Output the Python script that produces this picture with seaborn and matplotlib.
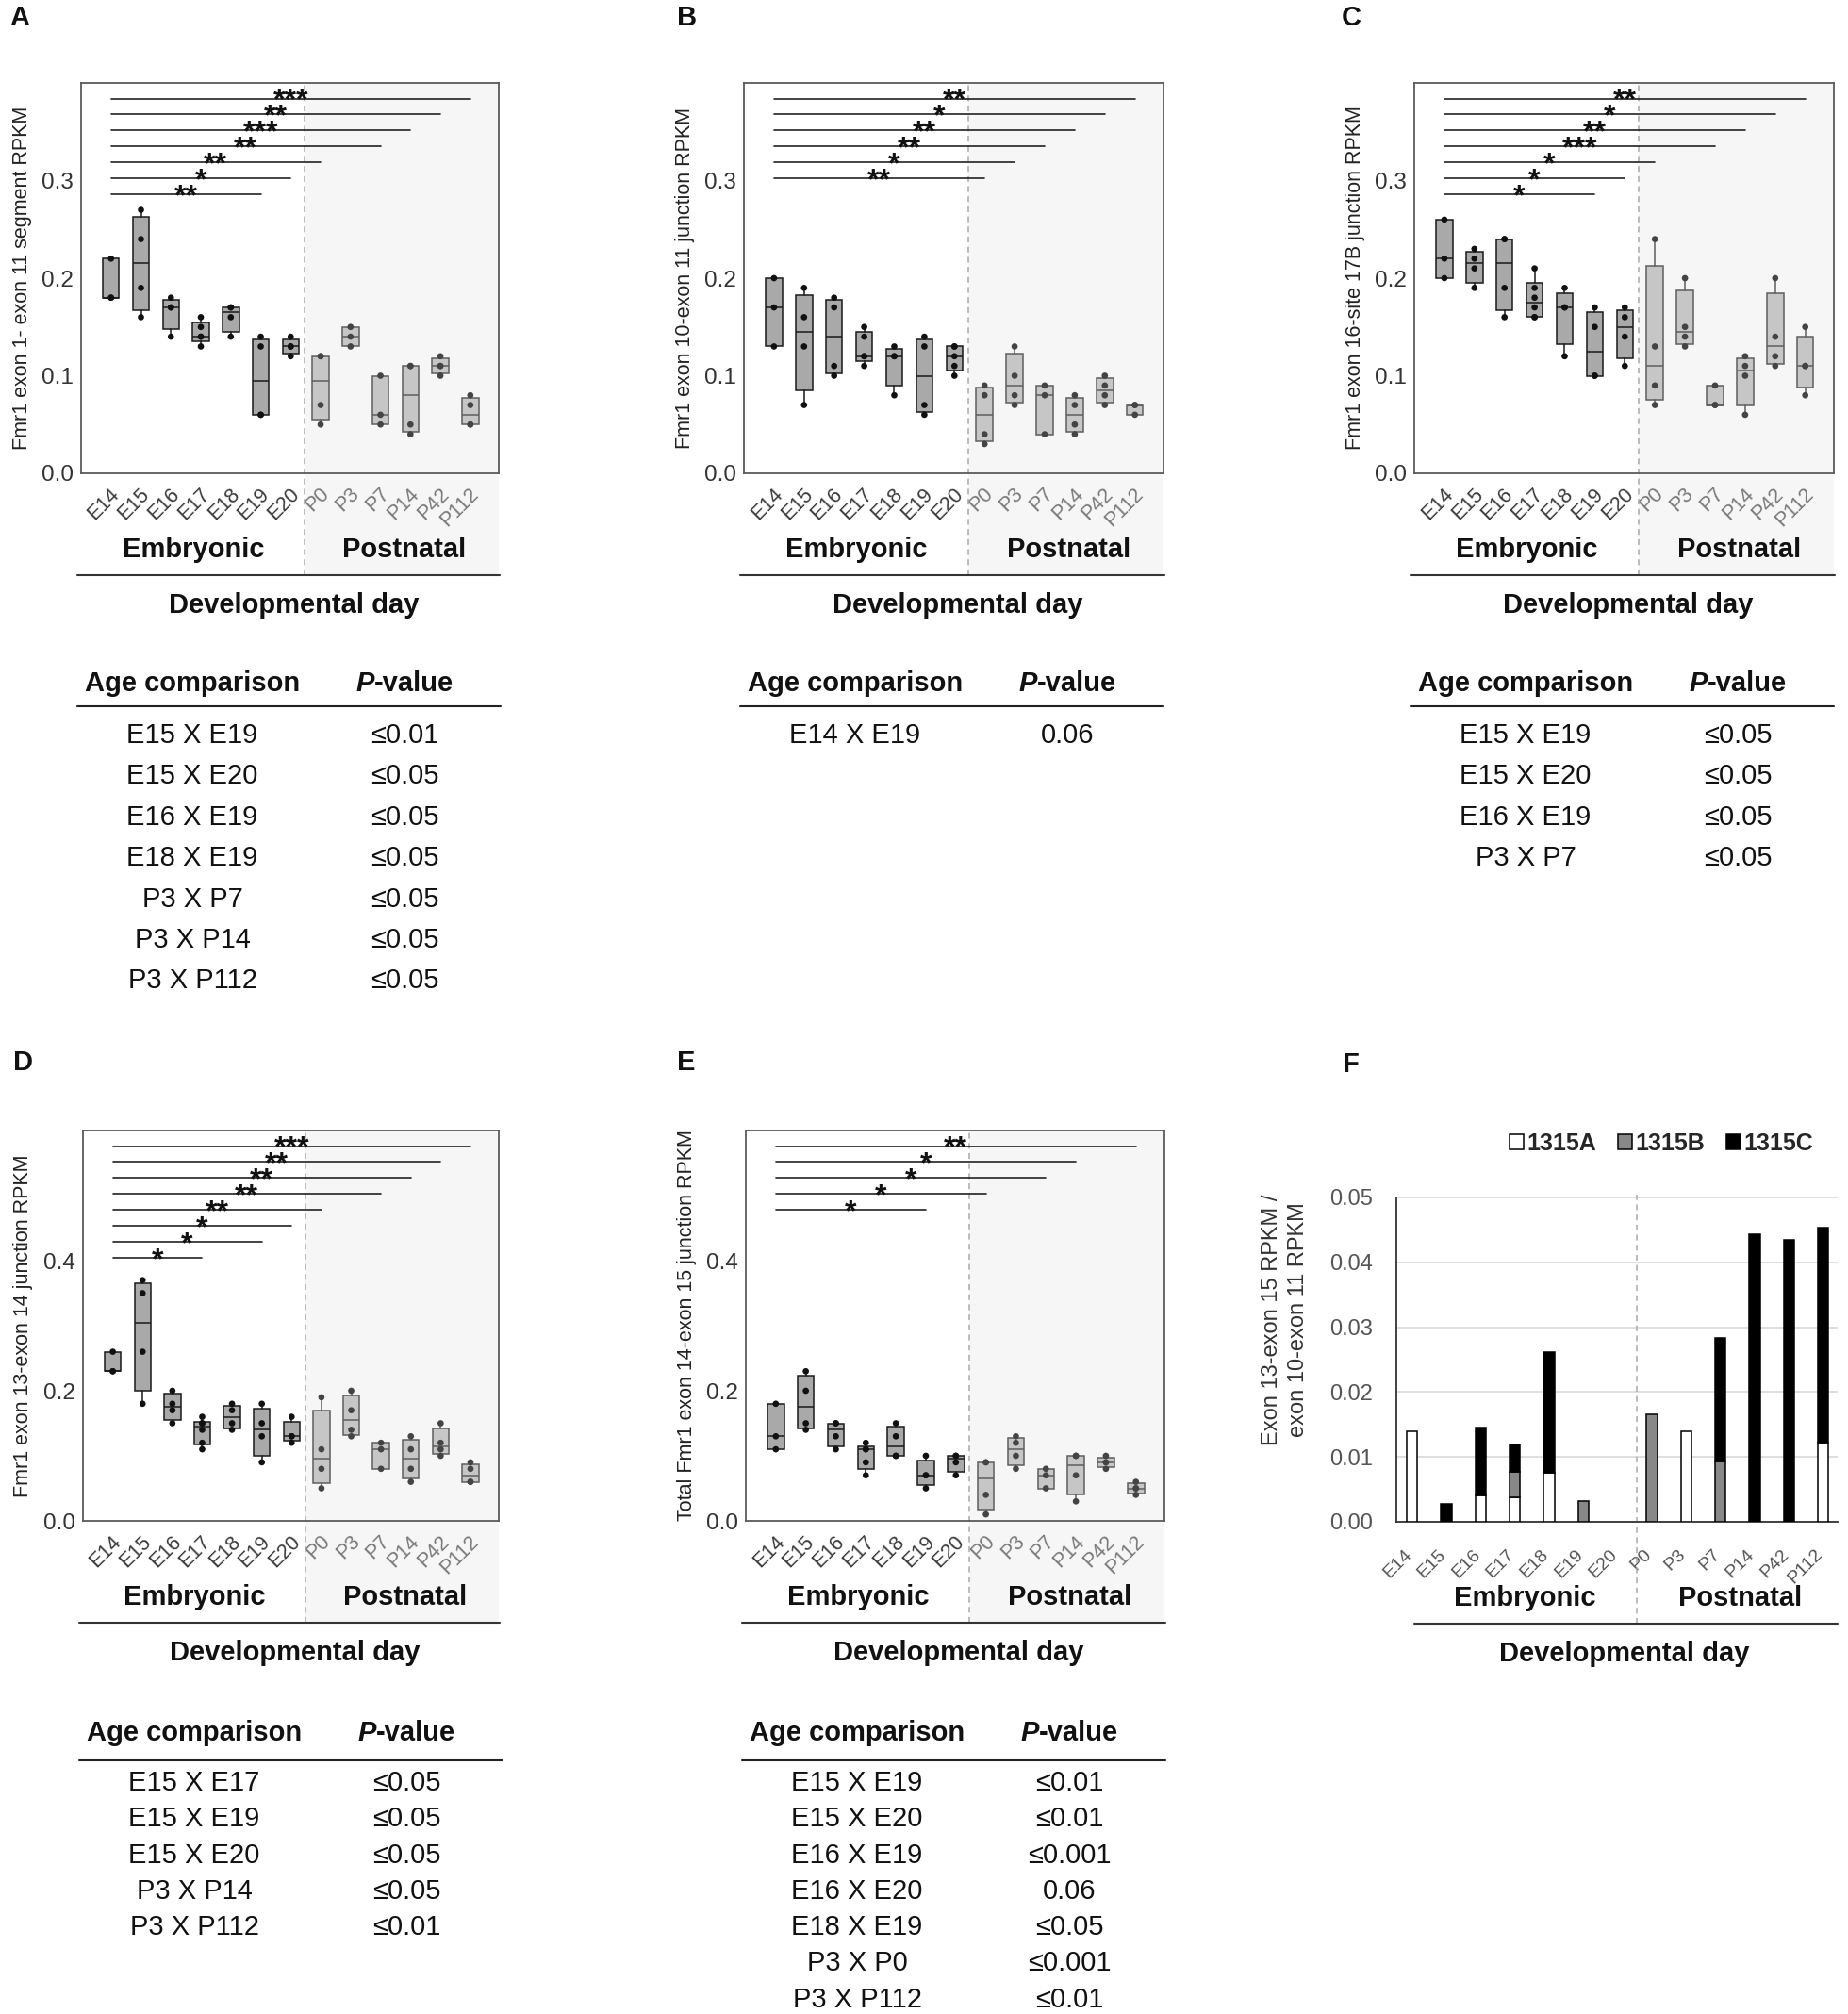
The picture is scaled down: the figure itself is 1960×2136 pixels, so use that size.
import numpy as np
import pandas as pd
import matplotlib
matplotlib.use("Agg")
import matplotlib.pyplot as plt
import matplotlib.transforms as mtransforms
from matplotlib.lines import Line2D
from matplotlib.patches import Rectangle, Patch
import seaborn as sns

# --- data ---
DAYS = ["E14", "E15", "E16", "E17", "E18", "E19", "E20",
        "P0", "P3", "P7", "P14", "P42", "P112"]

# A: Fmr1 exon 1- exon 11 segment RPKM
A_VALUES = [[0.18, 0.18, 0.22], [0.16, 0.19, 0.24, 0.27], [0.14, 0.17, 0.17, 0.18],
            [0.13, 0.14, 0.14, 0.15, 0.16], [0.14, 0.16, 0.17, 0.17], [0.06, 0.06, 0.13, 0.14],
            [0.12, 0.13, 0.13, 0.14], [0.05, 0.07, 0.12, 0.12], [0.13, 0.14, 0.15],
            [0.05, 0.06, 0.10], [0.04, 0.05, 0.11, 0.11], [0.10, 0.11, 0.11, 0.12],
            [0.05, 0.05, 0.07, 0.08]]
A_SIG_ENDS = ["E19", "E20", "P0", "P7", "P14", "P42", "P112"]
A_SIG_STARS = ["**", "*", "**", "**", "***", "**", "***"]

# B: Fmr1 exon 10-exon 11 junction RPKM
B_VALUES = [[0.13, 0.17, 0.20], [0.07, 0.13, 0.16, 0.19], [0.10, 0.11, 0.17, 0.18],
            [0.11, 0.12, 0.12, 0.14, 0.15], [0.08, 0.12, 0.12, 0.13], [0.06, 0.07, 0.13, 0.14],
            [0.10, 0.11, 0.12, 0.13, 0.13], [0.03, 0.04, 0.08, 0.09], [0.07, 0.08, 0.10, 0.13],
            [0.04, 0.08, 0.09], [0.04, 0.05, 0.07, 0.08], [0.07, 0.08, 0.09, 0.10],
            [0.06, 0.07, 0.07]]
B_SIG_ENDS = ["P0", "P3", "P7", "P14", "P42", "P112"]
B_SIG_STARS = ["**", "*", "**", "**", "*", "**"]

# C: Fmr1 exon 16-site 17B junction RPKM
C_VALUES = [[0.20, 0.22, 0.26], [0.19, 0.21, 0.22, 0.23], [0.16, 0.19, 0.24, 0.24],
            [0.16, 0.16, 0.17, 0.18, 0.19, 0.21], [0.12, 0.17, 0.17, 0.19], [0.10, 0.10, 0.15, 0.17],
            [0.11, 0.14, 0.16, 0.17], [0.07, 0.09, 0.13, 0.24], [0.13, 0.14, 0.15, 0.20],
            [0.07, 0.07, 0.09], [0.06, 0.10, 0.11, 0.12], [0.11, 0.12, 0.14, 0.20],
            [0.08, 0.11, 0.11, 0.15]]
C_SIG_ENDS = ["E19", "E20", "P0", "P7", "P14", "P42", "P112"]
C_SIG_STARS = ["*", "*", "*", "***", "**", "*", "**"]

# D: Fmr1 exon 13-exon 14 junction RPKM
D_VALUES = [[0.23, 0.23, 0.26], [0.18, 0.26, 0.35, 0.37], [0.15, 0.17, 0.18, 0.20],
            [0.11, 0.12, 0.14, 0.15, 0.15, 0.16], [0.14, 0.15, 0.17, 0.18], [0.09, 0.13, 0.15, 0.18],
            [0.12, 0.13, 0.13, 0.16], [0.05, 0.08, 0.11, 0.19], [0.13, 0.14, 0.17, 0.20],
            [0.08, 0.11, 0.12], [0.06, 0.08, 0.11, 0.13], [0.10, 0.11, 0.12, 0.15],
            [0.06, 0.06, 0.08, 0.09]]
D_SIG_ENDS = ["E17", "E19", "E20", "P0", "P7", "P14", "P42", "P112"]
D_SIG_STARS = ["*", "*", "*", "**", "**", "**", "**", "***"]

# E: Total Fmr1 exon 14-exon 15 junction RPKM
E_VALUES = [[0.11, 0.13, 0.18], [0.14, 0.15, 0.20, 0.23], [0.11, 0.13, 0.15, 0.15],
            [0.07, 0.09, 0.11, 0.11, 0.12], [0.10, 0.10, 0.13, 0.15], [0.05, 0.07, 0.07, 0.10],
            [0.07, 0.09, 0.10, 0.10], [0.01, 0.04, 0.09, 0.09], [0.08, 0.10, 0.12, 0.13],
            [0.05, 0.07, 0.08], [0.03, 0.07, 0.10, 0.10], [0.08, 0.09, 0.09, 0.10],
            [0.04, 0.05, 0.05, 0.06]]
E_SIG_ENDS = ["E19", "P0", "P7", "P14", "P112"]
E_SIG_STARS = ["*", "*", "*", "*", "**"]

# F: stacked ratio bars
F_1315A = [0.0139, 0, 0.0041, 0.0038, 0.0075, 0, 0, 0, 0.0139, 0, 0, 0, 0.0122]
F_1315B = [0, 0, 0, 0.0039, 0, 0.0032, 0, 0.0165, 0, 0.0093, 0, 0, 0]
F_1315C = [0, 0.0027, 0.0105, 0.0042, 0.0186, 0, 0, 0, 0, 0.0190, 0.0444, 0.0435, 0.0331]
F_SERIES = ["1315A", "1315B", "1315C"]

# tables
TAB_A_COMP = ["E15 X E19", "E15 X E20", "E16 X E19", "E18 X E19", "P3 X P7", "P3 X P14", "P3 X P112"]
TAB_A_P = ["≤0.01", "≤0.05", "≤0.05", "≤0.05", "≤0.05", "≤0.05", "≤0.05"]
TAB_B_COMP = ["E14 X E19"]
TAB_B_P = ["0.06"]
TAB_C_COMP = ["E15 X E19", "E15 X E20", "E16 X E19", "P3 X P7"]
TAB_C_P = ["≤0.05", "≤0.05", "≤0.05", "≤0.05"]
TAB_D_COMP = ["E15 X E17", "E15 X E19", "E15 X E20", "P3 X P14", "P3 X P112"]
TAB_D_P = ["≤0.05", "≤0.05", "≤0.05", "≤0.05", "≤0.01"]
TAB_E_COMP = ["E15 X E19", "E15 X E20", "E16 X E19", "E16 X E20", "E18 X E19", "P3 X P0", "P3 X P112"]
TAB_E_P = ["≤0.01", "≤0.01", "≤0.001", "0.06", "≤0.05", "≤0.001", "≤0.01"]

# --- layout (pixels of the 1960x2136 canvas) ---
W, H = 1960, 2136
DIV = 6.45
XLIM = (-1.0, 12.95)
BIG = 21


def rect(left, top, right, bottom):
    return [left / W, 1 - bottom / H, (right - left) / W, (bottom - top) / H]


def fy(y):
    return 1 - y / H


def group_labels(ax, h, x_emb, x_post, x_dev, line_x):
    trans = mtransforms.blended_transform_factory(ax.transData, ax.transAxes)
    ax.text(x_emb, -(78 + 3) / h, "Embryonic", transform=trans, ha="center", va="center",
            fontsize=BIG, fontweight="bold", color="#111")
    ax.text(x_post, -(78 + 3) / h, "Postnatal", transform=trans, ha="center", va="center",
            fontsize=BIG, fontweight="bold", color="#111")
    ax.text(x_dev, -(137 + 3) / h, "Developmental day", transform=trans, ha="center", va="center",
            fontsize=BIG, fontweight="bold", color="#111")
    ax.plot(line_x, [-108 / h, -108 / h], transform=ax.transAxes, color="#333", lw=1.5,
            clip_on=False)


def box_stats(vals):
    q1, med, q3 = np.percentile(vals, [25, 50, 75], method="weibull")
    return dict(med=med, q1=q1, q3=q3, whislo=min(vals), whishi=max(vals), fliers=[])


def box_panel(fig, box, values, ymax, yticks, ylabel, sig_ends, sig_stars):
    left, top, right, bottom = box
    w, h = right - left, bottom - top
    ax = fig.add_axes(rect(*box))

    rows = []
    for i, (day, vals) in enumerate(zip(DAYS, values)):
        for v in vals:
            rows.append({"pos": i, "value": v,
                         "period": "Embryonic" if day.startswith("E") else "Postnatal"})
    df = pd.DataFrame(rows)

    trans = mtransforms.blended_transform_factory(ax.transData, ax.transAxes)
    below = -108 / h
    ax.add_patch(Rectangle((DIV, below), XLIM[1] - DIV, 1 - below, transform=trans,
                           facecolor="#f6f6f6", edgecolor="none", clip_on=False, zorder=0))
    ax.plot([DIV, DIV], [below, 1], transform=trans, color="#aaaaaa", lw=1.1,
            ls=(0, (4, 3)), clip_on=False, zorder=1)

    emb = [i for i, d in enumerate(DAYS) if d.startswith("E")]
    post = [i for i, d in enumerate(DAYS) if d.startswith("P")]
    for idx, fc, ec in [(emb, "#a9a9a9", "#1a1a1a"), (post, "#c6c6c6", "#5e5e5e")]:
        ax.bxp([box_stats(values[i]) for i in idx], positions=idx, widths=0.55,
               patch_artist=True, showcaps=False, showfliers=False, manage_ticks=False,
               boxprops=dict(facecolor=fc, edgecolor=ec, linewidth=1.1),
               medianprops=dict(color=ec, linewidth=1.1),
               whiskerprops=dict(color=ec, linewidth=1.1), zorder=2)

    sns.stripplot(data=df, x="pos", y="value", hue="period", orient="x",
                  palette={"Embryonic": "#111111", "Postnatal": "#444444"},
                  jitter=False, native_scale=True, size=4.8, linewidth=0,
                  legend=False, ax=ax, zorder=3)

    n = len(sig_ends)
    for i, (end, star) in enumerate(zip(sig_ends, sig_stars)):
        j = DAYS.index(end)
        y = ymax * (0.96 - 0.0408 * (n - 1 - i))
        ax.plot([0, j], [y, y], color="#222", lw=1.2, zorder=4)
        ax.annotate(star, xy=(j / 2, y), xytext=(0, -8), textcoords="offset points",
                    ha="center", va="baseline", fontsize=23, fontweight="bold",
                    color="#111", zorder=5)

    ax.set_xlim(*XLIM)
    ax.set_ylim(0, ymax)
    ax.set_xticks(range(len(DAYS)))
    ax.set_xticklabels(DAYS, rotation=45, ha="right", va="center", rotation_mode="anchor",
                       fontsize=15.5)
    ax.tick_params(axis="x", length=0, pad=13.5)
    shift = mtransforms.ScaledTranslation(6 / 100, 0, fig.dpi_scale_trans)
    for lbl, day in zip(ax.get_xticklabels(), DAYS):
        lbl.set_transform(lbl.get_transform() + shift)
        lbl.set_color("#3a3a3a" if day.startswith("E") else "#7a7a7a")
    ax.set_yticks(yticks)
    ax.set_yticklabels([f"{t:.1f}" for t in yticks], fontsize=17.5, color="#333")
    ax.tick_params(axis="y", length=4, width=1.1, color="#555", pad=2, direction="out")
    for sp in ax.spines.values():
        sp.set_color("#5a5a5a")
        sp.set_linewidth(1.3)
        sp.set_visible(True)
    ax.set_xlabel("")
    ax.set_ylabel(ylabel, fontsize=15.5, color="#222", va="center")
    ax.yaxis.set_label_coords(-63 / w, 0.5)

    group_labels(ax, h, 2.75, 9.8, 6.1, [-0.01, 1.003])
    return ax


def table(fig, left, header_y, line_y, row_y0, step, comps, pvals):
    c1, c2 = left + 118, left + 343
    fig.text(c1 / W, fy(header_y + 3), "Age comparison", ha="center", va="center",
             fontsize=BIG, fontweight="bold", color="#111")
    fig.text((c2 - 32) / W, fy(header_y + 3), "P", ha="right", va="center",
             fontsize=BIG, fontweight="bold", fontstyle="italic", color="#111")
    fig.text((c2 - 32) / W, fy(header_y + 3), "-value", ha="left", va="center",
             fontsize=BIG, fontweight="bold", color="#111")
    fig.add_artist(Line2D([(left - 4) / W, (left + 445) / W], [fy(line_y)] * 2,
                          color="#222", lw=1.5))
    for k, (c, p) in enumerate(zip(comps, pvals)):
        y = row_y0 + k * step + 3
        fig.text(c1 / W, fy(y), c, ha="center", va="center", fontsize=BIG, color="#111")
        fig.text(c2 / W, fy(y), p, ha="center", va="center", fontsize=BIG, color="#111")


def main():
    sns.set_style("white")
    plt.rcParams["font.family"] = ["Liberation Sans", "DejaVu Sans"]

    fig = plt.figure(figsize=(W / 100, H / 100), dpi=100)

    top_ticks = [0.0, 0.1, 0.2, 0.3]
    low_ticks = [0.0, 0.2, 0.4]
    box_panel(fig, (86, 88, 529, 502), A_VALUES, 0.4, top_ticks,
              "Fmr1 exon 1- exon 11 segment RPKM", A_SIG_ENDS, A_SIG_STARS)
    box_panel(fig, (789, 88, 1234, 502), B_VALUES, 0.4, top_ticks,
              "Fmr1 exon 10-exon 11 junction RPKM", B_SIG_ENDS, B_SIG_STARS)
    box_panel(fig, (1500, 88, 1945, 502), C_VALUES, 0.4, top_ticks,
              "Fmr1 exon 16-site 17B junction RPKM", C_SIG_ENDS, C_SIG_STARS)
    box_panel(fig, (88, 1199, 529, 1613), D_VALUES, 0.6, low_ticks,
              "Fmr1 exon 13-exon 14 junction RPKM", D_SIG_ENDS, D_SIG_STARS)
    box_panel(fig, (791, 1199, 1235, 1613), E_VALUES, 0.6, low_ticks,
              "Total Fmr1 exon 14-exon 15 junction RPKM", E_SIG_ENDS, E_SIG_STARS)

    # --- panel F: stacked bars ---
    fl, ft, fr, fb = 1481, 1270, 1949, 1614
    fh = fb - ft
    axf = fig.add_axes(rect(fl, ft, fr, fb))
    xs = np.arange(len(DAYS))
    base = np.zeros(len(DAYS))
    colors = ["white", "#888888", "black"]
    for vals, col in zip([F_1315A, F_1315B, F_1315C], colors):
        vals = np.array(vals)
        m = vals > 0
        axf.bar(xs[m], vals[m], bottom=base[m], width=0.31, color=col, edgecolor="black",
                linewidth=1.1, zorder=3)
        base = base + vals
    axf.set_xlim(-0.46, 12.42)
    axf.set_ylim(0, 0.05)
    f_ticks = [0.0, 0.01, 0.02, 0.03, 0.04, 0.05]
    axf.set_yticks(f_ticks)
    axf.set_yticklabels([f"{t:.2f}" for t in f_ticks], fontsize=17, color="#555")
    axf.yaxis.grid(True, color="#d9d9d9", lw=1.2)
    axf.set_axisbelow(True)
    for s in ["top", "right"]:
        axf.spines[s].set_visible(False)
    for s in ["left", "bottom"]:
        axf.spines[s].set_color("#333")
        axf.spines[s].set_linewidth(1.3)
    axf.set_xticks(xs)
    axf.set_xticklabels(DAYS, rotation=45, ha="right", va="center", rotation_mode="anchor",
                        fontsize=14, color="#555")
    axf.tick_params(axis="x", length=0, pad=23)
    axf.tick_params(axis="y", length=0, pad=18)
    shift = mtransforms.ScaledTranslation(-3 / 100, 0, fig.dpi_scale_trans)
    for lbl in axf.get_xticklabels():
        lbl.set_transform(lbl.get_transform() + shift)
    trans = mtransforms.blended_transform_factory(axf.transData, axf.transAxes)
    axf.plot([6.55, 6.55], [-108 / fh, 1.01], transform=trans, color="#aaaaaa", lw=1.1,
             ls=(0, (4, 3)), clip_on=False, zorder=1)
    axf.set_ylabel("Exon 13-exon 15 RPKM /\nexon 10-exon 11 RPKM", fontsize=17,
                   linespacing=1.3, color="#333", va="center", ha="center")
    axf.yaxis.set_label_coords(-(fl - 1363) / (fr - fl), (fb - 1400) / fh)
    handles = [Patch(facecolor=c, edgecolor="black", linewidth=1.1) for c in colors]
    axf.legend(handles, F_SERIES, ncol=3, loc="center", bbox_to_anchor=(0.60, (fb - 1213) / fh),
               frameon=False, prop={"weight": "bold", "size": 18}, handlelength=0.6,
               handleheight=0.6, handletextpad=0.15, columnspacing=0.9, borderaxespad=0)
    group_labels(axf, fh, 3.3, 9.57, 6.2, [0.04, 1.0])

    # --- tables ---
    table(fig, 86, 722, 749, 777, 43.4, TAB_A_COMP, TAB_A_P)
    table(fig, 789, 722, 749, 777, 43.4, TAB_B_COMP, TAB_B_P)
    table(fig, 1500, 722, 749, 777, 43.4, TAB_C_COMP, TAB_C_P)
    table(fig, 88, 1835, 1867, 1888, 38.3, TAB_D_COMP, TAB_D_P)
    table(fig, 791, 1835, 1867, 1888, 38.3, TAB_E_COMP, TAB_E_P)

    # --- panel letters ---
    for letter, x, y in [("A", 10, 27), ("B", 718, 27), ("C", 1423, 27),
                         ("D", 14, 1135), ("E", 718, 1135), ("F", 1424, 1137)]:
        fig.text(x / W, fy(y), letter, fontsize=BIG, fontweight="bold", ha="left",
                 va="baseline", color="#111")

    fig.savefig("out.png", dpi=100)
    plt.close(fig)


if __name__ == "__main__":
    main()
